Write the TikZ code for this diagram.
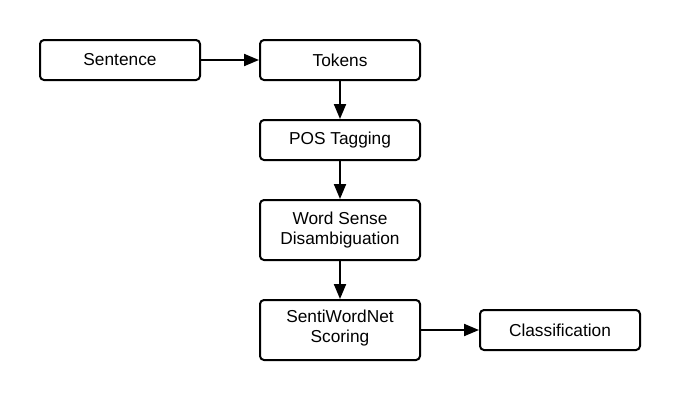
\documentclass[tikz,border=0pt]{standalone}
\usepackage{fontspec}
\setmainfont{Liberation Sans}
\usetikzlibrary{arrows.meta}
\begin{document}
\begin{tikzpicture}[x=1pt,y=-1pt,
  box/.style={draw=black, line width=2pt, rounded corners=4pt, minimum width=160pt, align=center, inner sep=0pt,
    font=\fontsize{17.3}{20}\selectfont},
  conn/.style={line width=2pt, -{Triangle[length=15pt,width=12pt]}}]
\useasboundingbox (0,0) rectangle (680,400);
\node[box, minimum height=40pt] (sent) at (120,60) {Sentence};
\node[box, minimum height=40pt] (tok) at (340,60) {Tokens};
\node[box, minimum height=40pt] (pos) at (340,140) {POS Tagging};
\node[box, minimum height=60pt] (wsd) at (340,230) {Word Sense\\Disambiguation};
\node[box, minimum height=60pt, text depth=8pt] (swn) at (340,330) {SentiWordNet\\Scoring};
\node[box, minimum height=40pt] (cls) at (560,330) {Classification};
\draw[conn] (sent) -- (tok);
\draw[conn] (tok) -- (pos);
\draw[conn] (pos) -- (wsd);
\draw[conn] (wsd) -- (swn);
\draw[conn] (swn) -- (cls);
\end{tikzpicture}
\end{document}
